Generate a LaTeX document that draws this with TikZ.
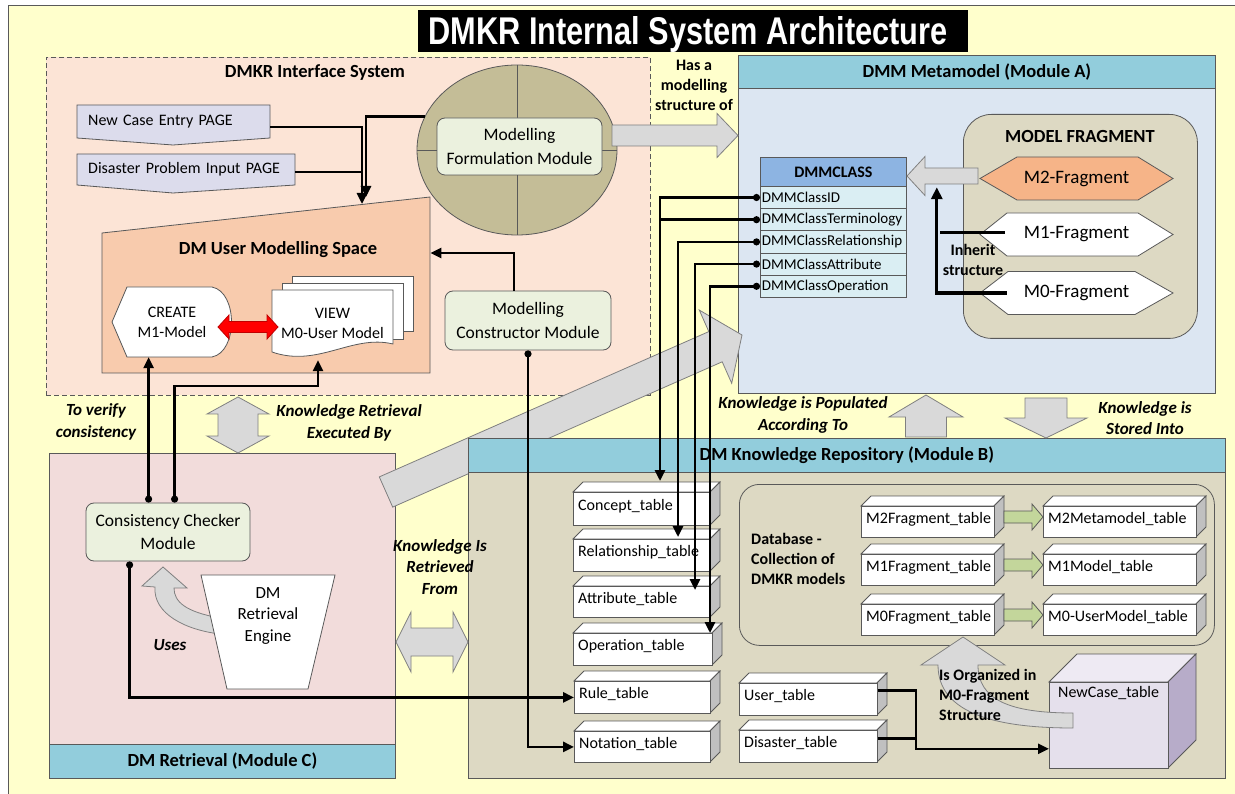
\documentclass[tikz,border=0pt]{standalone}
\usepackage{fontspec}
\setmainfont{Carlito}
\newfontfamily\titlefont{Liberation Sans}
\usetikzlibrary{arrows.meta,calc,shapes.geometric}

\definecolor{bgyellow}{HTML}{FFFFCC}
\definecolor{peach}{HTML}{FCE4D6}
\definecolor{apricot}{HTML}{F8CBAD}
\definecolor{olivebg}{HTML}{C4BD97}
\definecolor{mint}{HTML}{EBF1DE}
\definecolor{lav}{HTML}{DCDCEC}
\definecolor{cyanhead}{HTML}{92CDDC}
\definecolor{paleblue}{HTML}{DCE6F2}
\definecolor{classhead}{HTML}{8DB4E2}
\definecolor{classrow}{HTML}{DAEEF3}
\definecolor{tanbg}{HTML}{DDD9C3}
\definecolor{salmon}{HTML}{F6B488}
\definecolor{rose}{HTML}{F2DCDB}
\definecolor{arrowgray}{HTML}{D9D9D9}
\definecolor{arrowedge}{HTML}{808080}
\definecolor{edge}{HTML}{595959}
\definecolor{sidegray}{HTML}{C0C0C0}
\definecolor{leaf}{HTML}{C3D69B}
\definecolor{lilac}{HTML}{E5E0EC}
\definecolor{lilactop}{HTML}{EEEAF3}
\definecolor{lilacside}{HTML}{B7ACC9}
\definecolor{redfill}{HTML}{FF0000}
\definecolor{redline}{HTML}{C00000}

% font sizes (1pt = 1 unit of the drawing)
\newcommand{\fTxt}{\fontsize{16}{20}\selectfont}
\newcommand{\fRow}{\fontsize{15}{17}\selectfont}
\newcommand{\fMod}{\fontsize{17.5}{23.5}\selectfont}
\newcommand{\fFrag}{\fontsize{19}{22}\selectfont}
\newcommand{\fHdr}{\fontsize{18.5}{22}\selectfont\bfseries}
\newcommand{\fLbl}{\fontsize{17}{21.5}\selectfont\bfseries\itshape}
\newcommand{\fBold}{\fontsize{16}{20}\selectfont\bfseries}

% block arrows: tail, tip, cross position, shaft half width, head half width, signed head length, style
\newcommand{\hblock}[7]{%
  \filldraw[#7] ({#1},{#3-#4}) -- ({#2-(#6)},{#3-#4}) -- ({#2-(#6)},{#3-#5}) -- ({#2},{#3})
    -- ({#2-(#6)},{#3+#5}) -- ({#2-(#6)},{#3+#4}) -- ({#1},{#3+#4}) -- cycle;}
\newcommand{\vblock}[7]{%
  \filldraw[#7] ({#3-#4},{#1}) -- ({#3-#4},{#2-(#6)}) -- ({#3-#5},{#2-(#6)}) -- ({#3},{#2})
    -- ({#3+#5},{#2-(#6)}) -- ({#3+#4},{#2-(#6)}) -- ({#3+#4},{#1}) -- cycle;}
% double-headed: first tip, second tip, cross position, shaft half, head half, head length, style
\newcommand{\hdouble}[7]{%
  \filldraw[#7] ({#1},{#3}) -- ({#1+#6},{#3-#5}) -- ({#1+#6},{#3-#4}) -- ({#2-#6},{#3-#4})
    -- ({#2-#6},{#3-#5}) -- ({#2},{#3}) -- ({#2-#6},{#3+#5}) -- ({#2-#6},{#3+#4})
    -- ({#1+#6},{#3+#4}) -- ({#1+#6},{#3+#5}) -- cycle;}
\newcommand{\vdouble}[7]{%
  \filldraw[#7] ({#3},{#1}) -- ({#3-#5},{#1+#6}) -- ({#3-#4},{#1+#6}) -- ({#3-#4},{#2-#6})
    -- ({#3-#5},{#2-#6}) -- ({#3},{#2}) -- ({#3+#5},{#2-#6}) -- ({#3+#4},{#2-#6})
    -- ({#3+#4},{#1+#6}) -- ({#3+#5},{#1+#6}) -- cycle;}

% 3-D database table: name, left, top, width, height, label
\newcommand{\dbtable}[6]{%
  \filldraw[fill=white, draw=edge, line width=0.8pt] (#2,#3) -- ++(10,-10) -- ++(#4,0) -- ++(-10,10) -- cycle;
  \filldraw[fill=sidegray, draw=edge, line width=0.8pt] ({#2+#4},#3) -- ++(10,-10) -- ++(0,#5) -- ++(-10,10) -- cycle;
  \node[panel, fill=white, minimum width=#4pt, minimum height=#5pt] (#1) at (#2,#3) {};
  \node[anchor=west] (#1-text) at ($(#1.west)+(5,-3)$) {#6};}

% fragment hexagon: name, centre y, left inset, right inset, fill, label
\newcommand{\fraghex}[6]{%
  \filldraw[fill=#5, draw=edge, line width=0.8pt] (980,#2) -- ({980+#3},{#2-21.5}) -- ({1173-#4},{#2-21.5})
    -- (1173,#2) -- ({1173-#4},{#2+21.5}) -- ({980+#3},{#2+21.5}) -- cycle;
  \node[minimum width=193pt, minimum height=43pt, font=\fFrag] (#1) at (1076.5,#2) {#6};}

\begin{document}
\begin{tikzpicture}[x=1pt,y=-1pt,
  every node/.style={inner sep=0pt, font=\fTxt},
  panel/.style={draw=edge, line width=0.8pt, anchor=north west},
  garrow/.style={fill=arrowgray, draw=arrowedge, line width=0.8pt},
  leafarrow/.style={fill=leaf, draw=edge, line width=0.8pt},
  redarrow/.style={fill=redfill, draw=redline, line width=0.8pt},
  shapeline/.style={draw=edge, line width=0.8pt},
  modbox/.style={draw=edge, line width=0.8pt, fill=mint, rounded corners=8pt, align=center, font=\fMod},
  conn/.style={line width=2.6pt, -{Triangle[length=11pt,width=10pt]}},
  dotconn/.style={line width=2.6pt, {Circle[length=7pt]}-{Triangle[length=11pt,width=10pt]}},
  plainline/.style={line width=2.6pt},
  dotline/.style={line width=2.6pt, {Circle[length=7pt]}-},
  lbl/.style={font=\fLbl, align=center},
  blbl/.style={font=\fBold, align=center},
]
\useasboundingbox (0,0) rectangle (1235,794);
\fill[white] (0,0) rectangle (1235,794);
\fill[bgyellow] (8,6) rectangle (1235,794);
\draw[edge, line width=1pt] (8,794) -- (8,6) -- (1235,6);

% ---------- title ----------
\node[fill=black, minimum width=550pt, minimum height=42pt, anchor=north west] (title) at (418,10) {};
\node[text=white] (titletext) at (688,35) {\resizebox{519pt}{28pt}{\titlefont\bfseries DMKR Internal System Architecture}};

% ---------- interface system ----------
\node[panel, fill=peach, dash pattern=on 5pt off 3pt] [minimum width=604pt, minimum height=338pt] (ifs) at (46,57) {};
\node[font=\fHdr] (ifstitle) at (315,73) {DMKR Interface System};

\filldraw[fill=lav, shapeline] (77,105) -- (270,105) -- (270,138) -- (173,145) -- (77,138) -- cycle;
\node[anchor=north west, minimum width=193pt, minimum height=33pt, inner xsep=11pt, text width=171pt, align=left] (pnew) at (77,105) {New Case Entry PAGE};
\filldraw[fill=lav, shapeline] (77,154) -- (295,154) -- (295,185) -- (173,193) -- (77,185) -- cycle;
\node[anchor=north west, minimum width=218pt, minimum height=31pt, inner xsep=11pt, text width=196pt, align=left] (pdis) at (77,154) {Disaster Problem Input PAGE};

% user modelling space
\filldraw[fill=apricot, shapeline] (102,233) -- (430,197) -- (430,373) -- (102,373) -- cycle;
\node[anchor=north west, minimum width=328pt, minimum height=176pt] (ums) at (102,197) {};
\node[font=\fHdr] (umstitle) at (278,250) {DM User Modelling Space};

\filldraw[fill=white, shapeline] (112,322) -- (127,287) -- (212,287) .. controls (238,292) and (238,352) .. (212,357) -- (127,357) -- cycle;
\node[minimum width=120pt, minimum height=70pt, align=center] (create) at (172,322) {CREATE\\M1-Model};

\filldraw[fill=white, shapeline] (292,276) rectangle (413,331);
\filldraw[fill=white, shapeline] (282,283) rectangle (403,339);
\filldraw[fill=white, shapeline] (272,290) -- (393,290) -- (393,344) .. controls (352,334) and (318,368) .. (272,352) -- cycle;
\node[minimum width=121pt, minimum height=67pt, align=center] (view) at (332.5,323.5) {VIEW\\M0-User Model};

\hdouble{218}{278}{327}{5.5}{12}{11}{redarrow}

% modelling formulation module
\node[ellipse, fill=olivebg, shapeline, minimum width=200pt, minimum height=170pt] (mfe) at (517,150) {};
\draw[shapeline] (mfe.north) -- (mfe.south);
\draw[shapeline] (mfe.west) -- (mfe.east);
\node[modbox, minimum width=165pt, minimum height=57pt] (mfm) at (519.5,146.5) {Modelling\\Formulation Module};

\node[modbox, minimum width=166pt, minimum height=59pt] (cm) at (528,320.5) {Modelling\\Constructor Module};

% ---------- DMM metamodel ----------
\node[panel, fill=paleblue, minimum width=477pt, minimum height=338pt] (dmm) at (738,55) {};
\node[panel, fill=cyanhead, minimum width=477pt, minimum height=33pt, font=\fHdr] (dmmhead) at (738,55) {DMM Metamodel (Module A)};

\node[panel, fill=classhead, minimum width=146pt, minimum height=29pt, font=\fontsize{16}{18}\selectfont\bfseries] (dmmclass) at (760,157) {DMMCLASS};
\begin{scope}[every node/.append style={panel, fill=classrow, minimum width=146pt, minimum height=22.2pt, font=\fRow, inner xsep=1.5pt, text width=143pt, align=left}]
\node (rid)   at (760,186)   {DMMClassID};
\node (rterm) at (760,208.2) {DMMClassTerminology};
\node (rrel)  at (760,230.4) {DMMClassRelationship};
\node (ratt)  at (760,252.6) {DMMClassAttribute};
\node (rop)   at (760,274.8) {DMMClassOperation};
\end{scope}

\node[panel, fill=tanbg, rounded corners=28pt, minimum width=234pt, minimum height=224pt] (mf) at (963,114) {};
\node[font=\fHdr] (mftitle) at (1080,137) {MODEL FRAGMENT};
\fraghex{m2f}{178.5}{37}{35}{salmon}{M2-Fragment}
\fraghex{m1f}{234.5}{27}{35}{white}{M1-Fragment}
\fraghex{m0f}{293}{28}{38}{white}{M0-Fragment}

% ---------- DM retrieval ----------
\node[panel, fill=rose, minimum width=346pt, minimum height=325pt] (ret) at (49,453) {};
\node[panel, fill=cyanhead, minimum width=346pt, minimum height=34pt, font=\fHdr] (retfoot) at (49,744) {DM Retrieval (Module C)};
\node[modbox, minimum width=164pt, minimum height=58pt] (cc) at (168,532) {Consistency Checker\\Module};

\filldraw[garrow] (220,618) .. controls (186,612) and (174,602) .. (174,588) -- (187,588) -- (163,567)
  -- (142,586) -- (155,587) .. controls (153,614) and (186,630) .. (220,634) -- cycle;
\filldraw[fill=white, shapeline] (201,575) -- (335,575) -- (308,689) -- (227,689) -- cycle;
\node[align=center, font=\fontsize{17}{21.5}\selectfont] (engine) at (268,616) {DM\\Retrieval\\Engine};

% knowledge flow from retrieval towards the metamodel
\filldraw[garrow] (379.3,476.9) -- (708.8,331.6) -- (699.3,310.1) -- (742,335) -- (731.7,383.3) -- (722.2,361.8) -- (392.7,507.1) -- cycle;

% ---------- DM knowledge repository ----------
\node[panel, fill=tanbg, minimum width=757pt, minimum height=340pt] (kr) at (468,438) {};
\node[panel, fill=cyanhead, minimum width=757pt, minimum height=34pt, font=\fHdr] (krhead) at (468,438) {DM Knowledge Repository (Module B)};

\node[panel, fill=tanbg, rounded corners=20pt, minimum width=475pt, minimum height=161pt] (db) at (739,484) {};
\node[font=\fBold, align=left, anchor=west] (dbtext) at (751,559) {Database -\\Collection of\\DMKR models};

\dbtable{concept}{573}{492}{137}{33}{Concept\_table}
\dbtable{relationship}{573}{539}{137}{32}{Relationship\_table}
\dbtable{attribute}{573}{586}{137}{31}{Attribute\_table}
\dbtable{operation}{573}{633}{139}{32}{Operation\_table}
\dbtable{rule}{574}{681}{136}{32}{Rule\_table}
\dbtable{notation}{574}{731}{136}{31}{Notation\_table}

\dbtable{m2ftab}{861}{506}{133}{31}{M2Fragment\_table}
\dbtable{m2mtab}{1043}{506}{153}{31}{M2Metamodel\_table}
\dbtable{m1ftab}{861}{554}{133}{31}{M1Fragment\_table}
\dbtable{m1mtab}{1043}{554}{153}{31}{M1Model\_table}
\dbtable{m0ftab}{861}{604}{133}{31}{M0Fragment\_table}
\dbtable{m0utab}{1043}{604}{153}{31}{M0-UserModel\_table}
\hblock{1004}{1043}{517}{6}{13}{11}{leafarrow}
\hblock{1004}{1043}{565}{6}{13}{11}{leafarrow}
\hblock{1004}{1043}{615}{6}{13}{11}{leafarrow}

\dbtable{user}{739}{683}{138}{32}{User\_table}
\dbtable{disaster}{739}{730}{138}{32}{Disaster\_table}

% new case table (large 3-D box)
\filldraw[fill=lilactop, shapeline] (1049,682) -- (1077,654) -- (1196,654) -- (1168,682) -- cycle;
\filldraw[fill=lilacside, shapeline] (1168,682) -- (1196,654) -- (1196,740) -- (1168,768) -- cycle;
\node[panel, fill=lilac, minimum width=119pt, minimum height=86pt] (newcase) at (1049,682) {};
\node[anchor=west] (newcasetext) at ($(newcase.north west)+(9,11)$) {NewCase\_table};

\filldraw[garrow] (1073,713) .. controls (1010,713) and (978,700) .. (978,665) -- (1005,665) -- (963,637)
  -- (921,665) -- (938,665) .. controls (938,715) and (1000,728) .. (1073,728) -- cycle;
\node[blbl, align=left, anchor=west] (orglbl) at (939,695) {Is Organized in\\M0-Fragment\\Structure};

% ---------- block arrows between modules ----------
\hblock{612}{738}{135.5}{10.5}{22}{21}{garrow}
\hblock{978}{907}{176}{8}{19.5}{-18}{garrow}
\vdouble{397}{453}{238}{20}{31}{17}{garrow}
\hdouble{396}{468}{642}{14}{30}{15}{garrow}
\vblock{437}{395}{926}{20.5}{37}{-22}{garrow}
\vblock{398}{438}{1046}{21}{41}{20}{garrow}

% ---------- connectors ----------
\draw[conn] ($(pnew.east)+(0,5.5)$) -| ($(ums.north west)+(260,7)$);
\draw[plainline] ($(pdis.east)+(0,2.5)$) -- ($(pdis.east)+(67,2.5)$);
\draw[conn] (mfe.160) -| ($(ums.north west)+(264,0)$);
\draw[conn] ($(cm.north)+(-14,0)$) |- ($(ums.north east)+(0,56)$);
\draw[dotconn] (cm.south) |- (notation.west);

\coordinate (ccA) at ($(cc.north west)+(63,0)$);
\coordinate (ccB) at ($(cc.north west)+(89,0)$);
\draw[dotconn] (ccA) -- (ccA |- create.south);
\draw[dotconn] (ccB) |- ($(view.south)+(-14.5,29)$) -- ($(view.south)+(-14.5,3)$);
\draw[dotconn] ($(cc.south west)+(44,0)$) |- (rule.west);

\coordinate (busA) at ($(concept.north west)+(87,-11)$);
\draw[dotconn] (rid.west) -| (busA);
\draw[dotline] (rterm.west) -- (busA |- rterm.west);
\draw[dotconn] (rrel.west) -| ($(relationship.north west)+(105,-2)$);
\draw[dotconn] (ratt.west) -| ($(attribute.north west)+(122,4)$);
\draw[dotconn] (rop.west) -| ($(operation.north west)+(137,0)$);

\coordinate (ncin) at ($(newcase.south west)+(0,-20)$);
\coordinate (bus) at ($(user.east)+(38,0)$);
\coordinate (usr0) at ($(user.east)+(0,-9)$);
\coordinate (dis0) at ($(disaster.east)+(0,-8)$);
\draw[conn] (usr0) -| (bus |- ncin) -- (ncin);
\draw[plainline] (dis0) -- (bus |- dis0);

\draw[line width=3.2pt, -{Triangle[length=12pt,width=11pt]}] ($(m0f.west)+(27,0)$) -| ($(m2f.south west)+(-43,-13)$);
\draw[line width=3.2pt] ($(m1f.west)+(25,-2)$) -- ($(m1f.west)+(-40,-2)$);

% ---------- labels ----------
\node[blbl] (haslbl) at (694,85) {Has a\\modelling\\structure of};
\node[blbl] (inhlbl) at (973,260) {Inherit\\structure};
\node[lbl] (verlbl) at (96,422) {To verify\\consistency};
\node[lbl] (exelbl) at (349,423) {Knowledge Retrieval\\Executed By};
\node[lbl] (fromlbl) at (440,567) {Knowledge Is\\Retrieved\\From};
\node[lbl] (useslbl) at (170,645) {Uses};
\node[lbl] (poplbl) at (803,415) {Knowledge is Populated\\According To};
\node[lbl] (storlbl) at (1145,418) {Knowledge is\\Stored Into};
\end{tikzpicture}
\end{document}
